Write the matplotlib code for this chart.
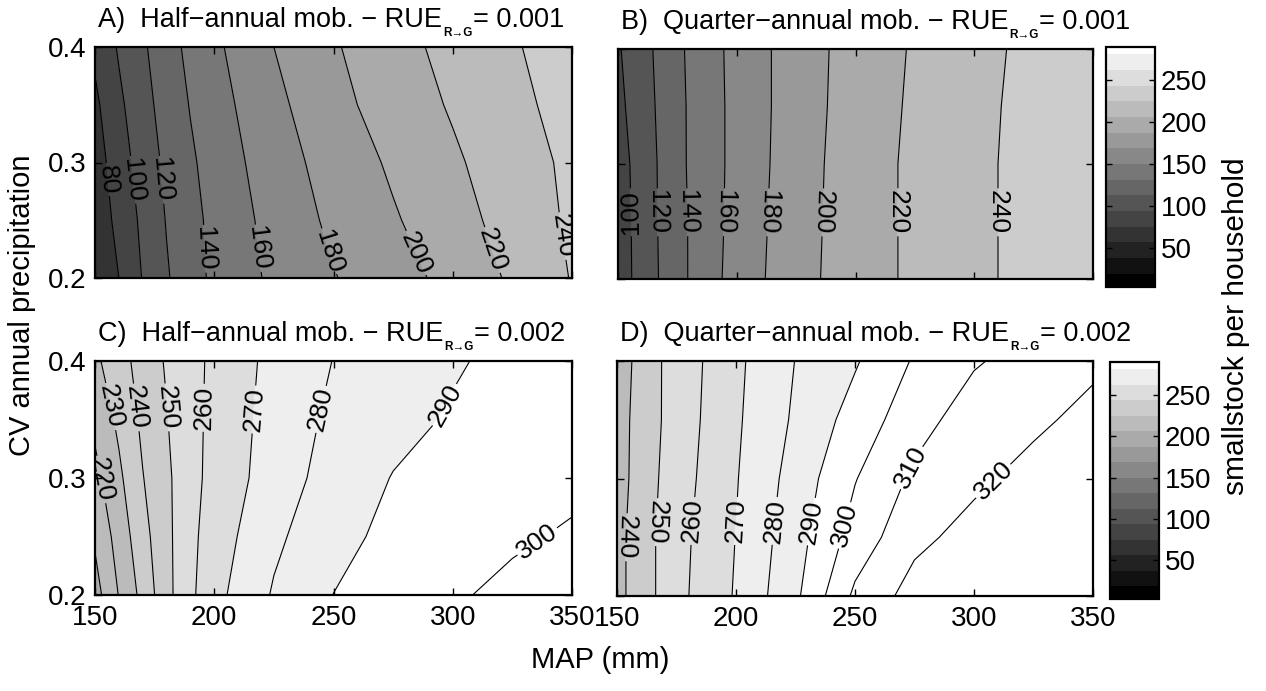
import numpy as np
import matplotlib
matplotlib.use('Agg')
import matplotlib.pyplot as plt
from matplotlib.colors import ListedColormap, Normalize
from matplotlib.cm import ScalarMappable

plt.rcParams['font.family'] = ['Liberation Sans', 'DejaVu Sans']
plt.rcParams['mathtext.default'] = 'regular'
plt.rcParams['axes.unicode_minus'] = True

# ---------------- data ----------------
map_mm = [150, 160, 170, 180, 190, 200, 225, 250, 275, 300, 325, 350]
cv_precip = [0.2, 0.25, 0.3, 0.35, 0.4]

# A) half-annual mobility, RUE 0.001  (rows = cv_precip, cols = map_mm)
z_A = [
    [60, 80, 101, 118, 132, 144, 164, 179, 192, 206, 223, 241],
    [66, 86, 104, 121, 134, 145, 167, 184, 198, 212, 228, 243],
    [71, 90, 109, 124, 137, 148, 171, 188, 203, 217, 231, 244],
    [76, 96, 113, 128, 141, 152, 175, 194, 209, 222, 235, 247],
    [84, 102, 117, 132, 145, 156, 180, 198, 213, 226, 238, 250],
]
# B) quarter-annual mobility, RUE 0.001
z_B = [
    [89, 108, 125, 141, 155, 168, 193, 210, 224, 236, 246, 256],
    [90, 108, 126, 141, 154, 167, 192, 210, 224, 236, 246, 256],
    [91, 109, 126, 142, 154, 166, 191, 210, 224, 236, 246, 256],
    [95, 111, 127, 142, 154, 166, 190, 209, 223, 235, 246, 256],
    [98, 113, 128, 143, 155, 166, 190, 208, 222, 234, 245, 256],
]
# C) half-annual mobility, RUE 0.002
z_C = [
    [206, 220.4, 233, 247, 258, 267, 281, 290.1, 295, 299, 302, 304],
    [211.5, 224, 236.5, 247.5, 257.5, 265, 278, 287, 292.5, 296, 298.8, 301],
    [217, 228, 239.6, 248, 257, 263, 275, 284, 290.4, 293, 295.5, 298],
    [222.5, 232, 242, 249.5, 257, 262.5, 274, 282, 287, 291, 294, 297],
    [228, 236, 244, 251, 257, 262, 273, 280.2, 284, 289, 292.5, 296],
]
# D) quarter-annual mobility, RUE 0.002
z_D = [
    [237, 245, 253, 259.9, 265, 271, 288, 312, 324, 325.5, 327.5, 329],
    [237, 245, 253, 259.3, 265, 270.2, 286, 304, 317.5, 323.5, 326, 329],
    [236, 244, 252, 258, 264, 269.4, 284, 299.5, 312, 318, 323.4, 328],
    [236, 243.5, 251, 257, 263, 268.6, 281.5, 294, 306, 315, 318, 323],
    [235, 243, 251, 257, 262, 268, 280.2, 289, 301, 309, 314, 318],
]

levels_A = [80, 100, 120, 140, 160, 180, 200, 220, 240]
levels_B = [100, 120, 140, 160, 180, 200, 220, 240]
levels_C = [210, 220, 230, 240, 250, 260, 270, 280, 290, 300]
levels_D = [240, 250, 260, 270, 280, 290, 300, 310, 320]

title_main = ['A)  Half\u2212annual mob. \u2212 RUE',
              'B)  Quarter\u2212annual mob. \u2212 RUE',
              'C)  Half\u2212annual mob. \u2212 RUE',
              'D)  Quarter\u2212annual mob. \u2212 RUE']
title_sub = 'R\u2192G'
title_val = ['= 0.001', '= 0.001', '= 0.002', '= 0.002']

cbar_ticks = [50, 100, 150, 200, 250]

# ---------------- styling ----------------
cmap = ListedColormap([(v, v, v) for v in np.linspace(0, 1, 16)])
norm = Normalize(0, 300)

W, H = 1266, 691
fig = plt.figure(figsize=(W / 100, H / 100), dpi=100)

def rect(x0, y0, x1, y1):
    return [x0 / W, 1 - y1 / H, (x1 - x0) / W, (y1 - y0) / H]

ax_rects = [rect(95, 47, 572, 278), rect(618, 49, 1093, 279),
            rect(95, 361, 572, 595), rect(617, 361, 1093, 596)]

# colour value used for the area below the first contour in each panel
low_vals = [60, 80, 200, 220]

# label positions (data coordinates) and reading direction
label_pos = [
    [(154.2, 0.285), (166.1, 0.285), (177.3, 0.285), (194, 0.225), (215.7, 0.225),
     (246.4, 0.222), (284.9, 0.222), (317.7, 0.225), (345, 0.236)],
    [(155.1, 0.258), (167, 0.258), (178.9, 0.258), (194.4, 0.258), (211.9, 0.258),
     (234.4, 0.258), (265.9, 0.258), (308, 0.258)],
    [(153.5, 0.299), (154.2, 0.36), (166.1, 0.36), (178.1, 0.36), (194.9, 0.36),
     (213.9, 0.359), (244, 0.359), (293.2, 0.366), (336, 0.244)],
    [(153.5, 0.25), (165.4, 0.263), (180.8, 0.264), (199, 0.264), (215.8, 0.264),
     (232.6, 0.263), (243.8, 0.261), (271.8, 0.311), (309, 0.296)],
]
label_dirs = [
    [None] * 9,
    ['up', 'down', 'down', 'down', 'down', 'down', 'down', 'down'],
    [None] * 9,
    ['down', 'down', 'up', 'up', 'up', 'up', 'up', None, None],
]

data = [z_A, z_B, z_C, z_D]
levels = [levels_A, levels_B, levels_C, levels_D]

TICK_FS = 20
X, Y = np.meshgrid(map_mm, cv_precip)
for i in range(4):
    ax = fig.add_axes(ax_rects[i])
    Z = np.array(data[i], dtype=float)
    lv = levels[i]
    fill_lv = [-1000] + lv + [1000]
    cols = [cmap(norm(low_vals[i]))] + [cmap(norm(l)) for l in lv]
    ax.contourf(X, Y, Z, levels=fill_lv, colors=cols)
    cs = ax.contour(X, Y, Z, levels=lv, colors='black', linewidths=0.8)
    texts = ax.clabel(cs, manual=label_pos[i], inline=True, fmt='%d',
                      fontsize=19, inline_spacing=2)
    for t, d in zip(texts, label_dirs[i]):
        r = (t.get_rotation() + 180) % 360 - 180
        if d == 'up' and r < 0:
            r += 180
        if d == 'down' and r > 0:
            r -= 180
        t.set_rotation(r)
    ax.set_xlim(150, 350)
    ax.set_ylim(0.2, 0.4)
    ax.set_xticks([150, 200, 250, 300, 350])
    ax.set_yticks([0.2, 0.3, 0.4])
    ax.set_yticklabels(['0.2', '0.3', '0.4'])
    ax.tick_params(direction='in', top=True, right=True, length=5, width=1,
                   labelsize=TICK_FS)
    ax.tick_params(axis='x', pad=7)
    ax.tick_params(axis='y', pad=6)
    if i < 2:
        ax.tick_params(labelbottom=False)
    if i % 2 == 1:
        ax.tick_params(labelleft=False)
    for s in ax.spines.values():
        s.set_linewidth(1.6)

    # title in pieces: main text, small subscript, value
    t1 = ax.annotate(title_main[i], xy=(0, 1), xycoords='axes fraction',
                     xytext=(2, 10), textcoords='offset points',
                     ha='left', va='bottom', fontsize=19.5)
    t2 = ax.annotate(title_sub, xy=(1, 0), xycoords=t1,
                     xytext=(1, 0), textcoords='offset points',
                     ha='left', va='center', fontsize=8.5, fontweight='bold')
    t3 = ax.annotate(title_val[i], xy=(1, 0), xycoords=(t2, t1),
                     xytext=(0, 0), textcoords='offset points',
                     ha='left', va='bottom', fontsize=19.5)

# colorbars
for r in [rect(1106, 47, 1155, 287), rect(1110, 362, 1159, 599)]:
    cax = fig.add_axes(r)
    cb = fig.colorbar(ScalarMappable(norm=norm, cmap=cmap), cax=cax, ticks=cbar_ticks)
    cax.set_ylim(3, 290)
    cax.tick_params(direction='in', left=True, right=True, length=4, width=1,
                    labelsize=TICK_FS, pad=4)
    cb.outline.set_linewidth(1.6)

fig.text(22 / W, 1 - 305 / H, 'CV annual precipitation', rotation=90,
         ha='center', va='center', fontsize=21)
fig.text(600 / W, 1 - 660 / H, 'MAP (mm)', ha='center', va='center', fontsize=21)
fig.text(1236 / W, 1 - 326 / H, 'smallstock per household', rotation=90,
         ha='center', va='center', fontsize=21.5)

fig.savefig('out.png', dpi=100)
